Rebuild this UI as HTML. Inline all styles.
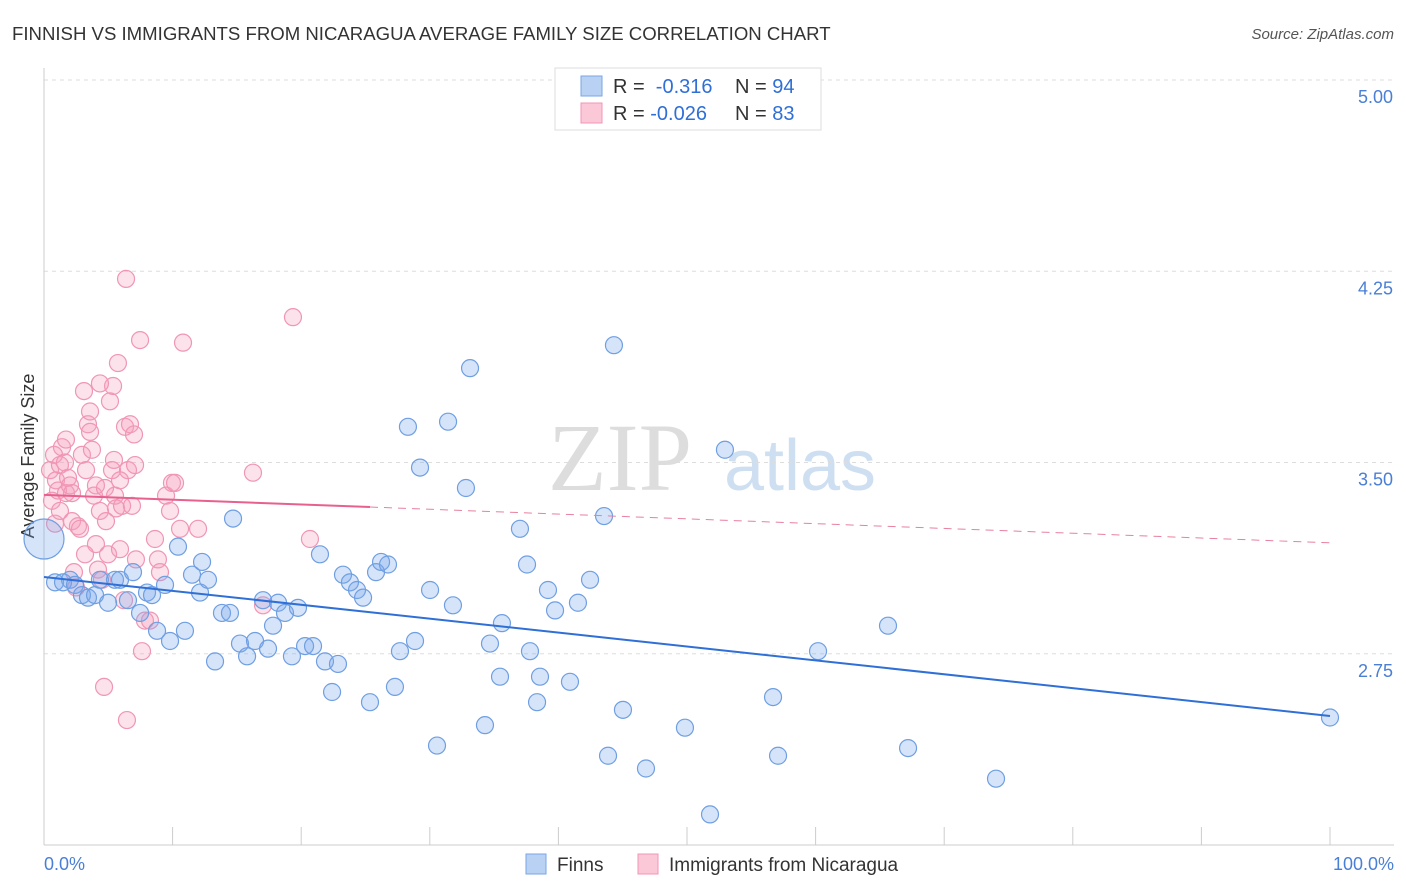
<!DOCTYPE html>
<html><head><meta charset="utf-8"><style>
body{margin:0;background:#fff;font-family:"Liberation Sans",sans-serif;}
svg{display:block}
</style></head><body>
<svg id="c" width="1406" height="892" xmlns="http://www.w3.org/2000/svg">
<text x="12" y="40" font-size="18.6" fill="#333">FINNISH VS IMMIGRANTS FROM NICARAGUA AVERAGE FAMILY SIZE CORRELATION CHART</text>
<text x="1394" y="39" font-size="15" fill="#555" font-style="italic" text-anchor="end">Source: ZipAtlas.com</text>
<text x="620" y="490" font-size="96" fill="#ddd" font-family="Liberation Serif,serif" text-anchor="middle">ZIP</text>
<text x="800" y="490" font-size="72" fill="#cfdff2" text-anchor="middle">atlas</text>
<text transform="translate(34,456) rotate(-90)" font-size="18" fill="#333" text-anchor="middle">Average Family Size</text>
<g id="grid"></g><g id="pts"></g><g id="lines"></g>
<g>
<rect x="555" y="68" width="266" height="62" fill="#fff" stroke="#ddd"/>
<rect x="581" y="76" width="21" height="20" fill="#b9d2f4" stroke="#7aa6e6"/>
<rect x="581" y="103" width="21" height="20" fill="#fbc8d8" stroke="#f096b4"/>
<text x="613" y="93" font-size="20" fill="#333">R = <tspan fill="#2f6fd6">&#160;-0.316</tspan></text>
<text x="735" y="93" font-size="20" fill="#333">N = <tspan fill="#2f6fd6">94</tspan></text>
<text x="613" y="120" font-size="20" fill="#333">R = <tspan fill="#2f6fd6">-0.026</tspan></text>
<text x="735" y="120" font-size="20" fill="#333">N = <tspan fill="#2f6fd6">83</tspan></text>
</g>
<g>
<rect x="526" y="854" width="20" height="20" fill="#b9d2f4" stroke="#7aa6e6"/>
<text x="557" y="871" font-size="19" fill="#333">Finns</text>
<rect x="638" y="854" width="20" height="20" fill="#fbc8d8" stroke="#f096b4"/>
<text x="669" y="871" font-size="19" fill="#333">Immigrants from Nicaragua</text>
</g>
<text x="44" y="870" font-size="18" fill="#4a7fd6">0.0%</text>
<text x="1394" y="870" font-size="18" fill="#4a7fd6" text-anchor="end">100.0%</text>
</svg>
<script>
const yTicks=[5.00,4.25,3.50,2.75];
const xTicks=[0,10,20,30,40,50,60,70,80,90,100];
const finnX=[0,0.86,2.02,1.48,2.41,2.95,3.42,3.97,4.35,4.98,5.52,5.91,6.53,6.92,7.47,8.01,8.40,8.79,9.41,9.80,10.42,10.96,11.51,12.13,12.29,12.75,13.30,13.84,14.46,14.70,15.24,15.79,16.41,17.03,17.42,17.81,18.20,18.74,19.28,19.75,20.30,20.92,21.46,21.85,22.40,22.86,23.25,23.79,24.34,24.81,25.35,25.82,26.21,26.75,27.29,27.68,28.30,28.85,29.24,30.02,30.56,31.42,31.80,32.81,33.13,34.29,34.68,35.46,35.61,37.01,37.56,37.79,38.34,38.57,39.19,39.74,40.90,41.52,42.46,43.55,43.86,44.32,45.02,46.81,49.84,51.79,52.95,56.69,57.08,60.19,65.63,67.19,74.03,100];
const finnY=[3.20,3.03,3.04,3.03,3.02,2.98,2.97,2.98,3.04,2.95,3.04,3.04,2.96,3.07,2.91,2.99,2.98,2.84,3.02,2.80,3.17,2.84,3.06,2.99,3.11,3.04,2.72,2.91,2.91,3.28,2.79,2.74,2.80,2.96,2.77,2.86,2.95,2.91,2.74,2.93,2.78,2.78,3.14,2.72,2.60,2.71,3.06,3.03,3.00,2.97,2.56,3.07,3.11,3.10,2.62,2.76,3.64,2.80,3.48,3.00,2.39,3.66,2.94,3.40,3.87,2.47,2.79,2.66,2.87,3.24,3.10,2.76,2.56,2.66,3.00,2.92,2.64,2.95,3.04,3.29,2.35,3.96,2.53,2.30,2.46,2.12,3.55,2.58,2.35,2.76,2.86,2.38,2.26,2.50];
const nicX=[0.47,0.62,0.78,0.93,1.09,1.24,1.40,1.63,1.71,1.87,2.02,2.18,2.33,2.49,2.64,2.80,2.95,3.11,3.27,3.42,3.58,3.73,3.89,4.04,4.20,4.35,4.51,4.67,4.82,4.98,5.13,5.29,5.44,5.52,5.60,5.75,5.91,6.07,6.22,6.30,6.45,6.53,6.69,6.84,7.00,7.15,7.47,7.62,7.85,8.24,8.63,8.86,9.02,9.49,9.80,9.95,10.19,10.58,10.81,11.98,16.25,17.03,19.36,20.68,6.38,5.37,4.35,3.58,0.86,1.24,1.71,2.18,3.19,4.04,4.74,5.91,7.08];
const nicY=[3.47,3.35,3.53,3.43,3.39,3.49,3.56,3.50,3.38,3.44,3.41,3.27,3.07,3.01,3.25,3.24,3.53,3.78,3.47,3.65,3.62,3.55,3.37,3.18,3.08,3.31,3.04,2.62,3.27,3.14,3.74,3.47,3.51,3.37,3.32,3.89,3.16,3.33,2.96,3.64,2.49,3.47,3.65,3.33,3.61,3.12,3.98,2.76,2.88,2.88,3.20,3.12,3.07,3.37,3.31,3.42,3.42,3.24,3.97,3.24,3.46,2.94,4.07,3.20,4.22,3.80,3.81,3.70,3.26,3.31,3.59,3.38,3.14,3.41,3.40,3.43,3.49];
const finnTrend=[3.051,2.506];
const nicTrend=[3.373,3.185];
const nicSolidEnd=25.35;

const X=v=>44+v*12.86, Y=v=>80+(5-v)*255;
const NS="http://www.w3.org/2000/svg";
function mk(t,a,p){const e=document.createElementNS(NS,t);for(const k in a)e.setAttribute(k,a[k]);p.appendChild(e);return e;}
const grid=document.getElementById('grid'),pts=document.getElementById('pts'),lines=document.getElementById('lines');
yTicks.forEach(t=>{
  const l=mk('line',{x1:44,x2:1394,y1:Y(t),y2:Y(t),stroke:'#ddd','stroke-dasharray':'4,4'},grid);
  
  
  const tx=mk('text',{x:1393,y:Y(t)+23,'font-size':18,fill:'#4a7fd6','text-anchor':'end'},grid);
  tx.textContent=t.toFixed(2);
  
  
});
const ax=mk('line',{x1:44,x2:1394,y1:845,y2:845,stroke:'#ccc'},grid);


const ay=mk('line',{x1:44,x2:44,y1:68,y2:845,stroke:'#ccc'},grid);


xTicks.forEach(t=>{
  const l=mk('line',{x1:X(t),x2:X(t),y1:827,y2:845,stroke:'#ccc'},grid);
  
  
});
nicX.forEach((x,i)=>{
  const c=mk('circle',{cx:X(x),cy:Y(nicY[i]),r:8.5,fill:'rgba(244,160,190,0.3)',stroke:'#f096b4','stroke-width':1.2},pts);
  
  
});
finnX.forEach((x,i)=>{
  const c=mk('circle',{cx:X(x),cy:Y(finnY[i]),r:i===0?20:8.5,fill:'rgba(120,165,235,0.3)',stroke:'#6f9fe2','stroke-width':1.2},pts);
  
  
});
const nAt=v=>nicTrend[0]+(nicTrend[1]-nicTrend[0])*v/100;
const p1=mk('line',{x1:X(0),y1:Y(nicTrend[0]),x2:X(nicSolidEnd),y2:Y(nAt(nicSolidEnd)),stroke:'#e8608f','stroke-width':2},lines);


const p2=mk('line',{x1:X(nicSolidEnd),y1:Y(nAt(nicSolidEnd)),x2:X(100),y2:Y(nicTrend[1]),stroke:'#e8809f','stroke-width':1,'stroke-dasharray':'8,6'},lines);


const b=mk('line',{x1:X(0),y1:Y(finnTrend[0]),x2:X(100),y2:Y(finnTrend[1]),stroke:'#2f6fd6','stroke-width':2},lines);


</script>
</body></html>
